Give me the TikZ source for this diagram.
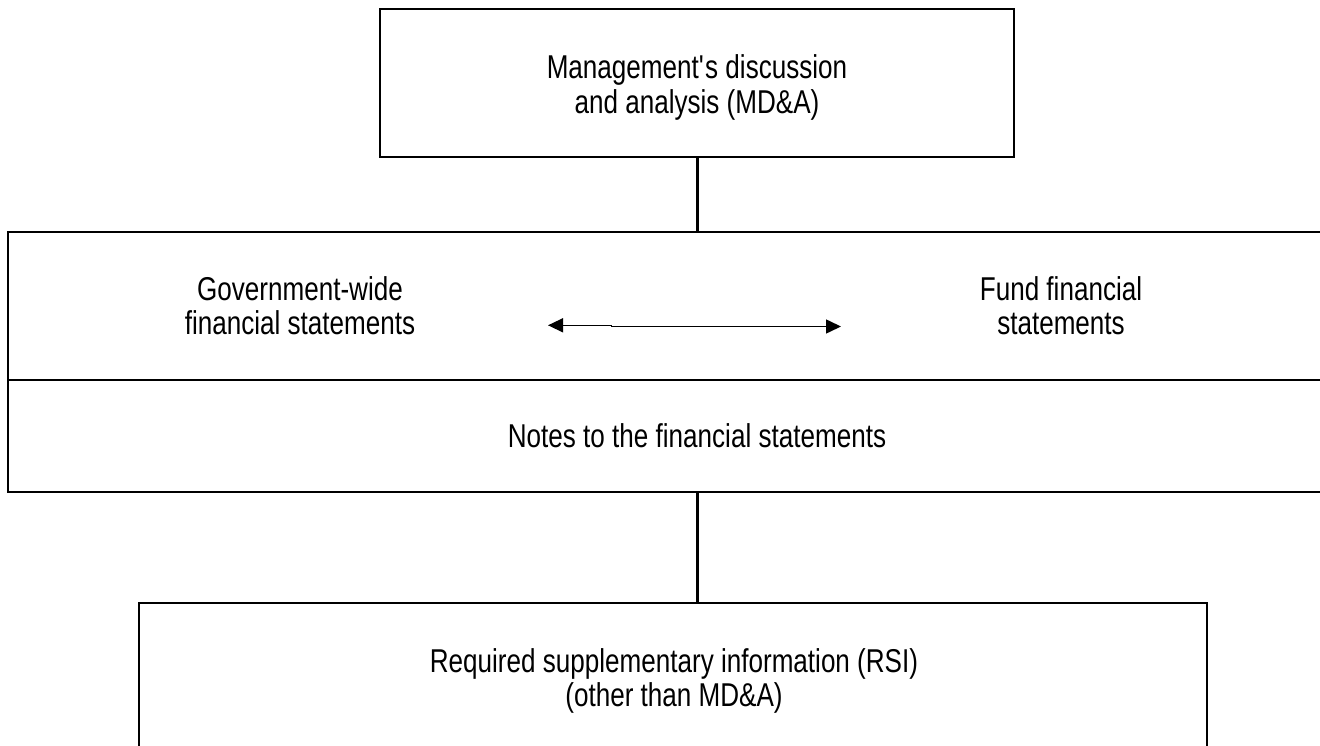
\documentclass[tikz,border=0pt]{standalone}
\usepackage{fontspec}
\setmainfont{Liberation Sans}[FakeStretch=0.79]
\usetikzlibrary{arrows.meta}
\tikzset{
  boxnode/.style={draw=black, line width=2.6pt, inner sep=0pt, outer sep=0pt, anchor=north west},
  txt/.style={font=\fontsize{33}{35}\selectfont, inner sep=0pt, anchor=base},
  link/.style={draw=black, line width=2.6pt},
  arr/.style={draw=black, line width=1.5pt},
  headL/.style={arr, {Triangle[length=15pt,width=14pt]}-},
  headR/.style={arr, -{Triangle[length=15pt,width=14pt]}}
}
\begin{document}
\begin{tikzpicture}[x=1pt,y=-1pt]
\useasboundingbox (0,0) rectangle (1320,746);
% boxes
\node[boxnode, minimum width=634pt, minimum height=148pt] (mda) at (380,9) {};
\node[boxnode, minimum width=1314pt, minimum height=148pt] (fs) at (8,232) {};
\node[boxnode, minimum width=1314pt, minimum height=112pt] (notes) at (8,380) {};
\node[boxnode, minimum width=1068pt, minimum height=170pt] (rsi) at (139,603) {};
% texts
\node[txt] (mdaA) at (697,79) {Management\textquotesingle s discussion};
\node[txt] (mdaB) at (697,114) {and analysis (MD\&A)};
\node[txt] (govA) at (300,300) {Government-wide};
\node[txt] (govB) at (300,334) {financial statements};
\node[txt] (fundA) at (1061,300) {Fund financial};
\node[txt] (fundB) at (1061,334) {statements};
\node[txt] (notesT) at (697,447) {Notes to the financial statements};
\node[txt] (rsiA) at (674,672) {Required supplementary information (RSI)};
\node[txt] (rsiB) at (674,706) {(other than MD\&A)};
% connectors
\coordinate (cx) at (697.5,0);
\draw[link] (mda.south -| cx) -- (fs.north -| cx);
\draw[link] (notes.south -| cx) -- (rsi.north -| cx);
\coordinate (aL) at (548,325.3);
\coordinate (sL) at (612,325.3);
\coordinate (sR) at (611,326.5);
\coordinate (aR) at (841,326.5);
\draw[headL] (aL) -- (sL);
\draw[headR] (sR) -- (aR);
\end{tikzpicture}
\end{document}
